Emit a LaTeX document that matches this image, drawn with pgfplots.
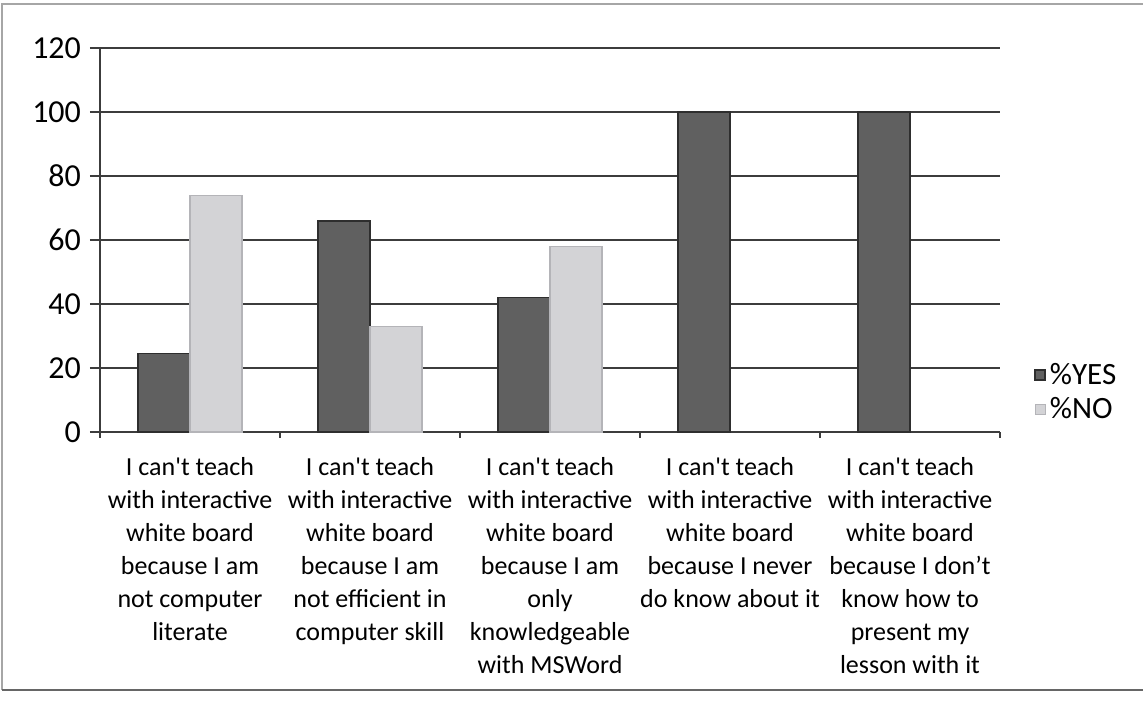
\documentclass[border=0pt]{standalone}
\usepackage{fontspec}
\setmainfont{Carlito}
\usepackage{pgfplots}
\pgfplotsset{compat=1.18}
\definecolor{yesfill}{HTML}{606060}
\definecolor{yesdraw}{HTML}{2E2E2E}
\definecolor{nofill}{HTML}{D3D3D6}
\definecolor{nodraw}{HTML}{B4B4B8}
\definecolor{gridc}{HTML}{3C3C3C}
\newcommand{\q}{\textquotesingle}
\begin{document}
\begin{tikzpicture}
\path[use as bounding box] (-50pt,-134pt) rectangle (521.5pt,216pt);
\draw[gray!70, line width=0.6pt] (-49pt,-129pt) -- (-49pt,214pt) -- (521.5pt,214pt);
\draw[gray!80!black, line width=0.8pt] (-49pt,-129pt) -- (521.5pt,-129pt);
\begin{axis}[
  scale only axis, width=450pt, height=192pt,
  ybar=0pt, bar width=26pt,
  xmin=-0.5, xmax=4.5, ymin=0, ymax=120,
  ytick={0,20,...,120},
  xtick={0,1,2,3,4},
  minor xtick={-0.5,0.5,1.5,2.5,3.5,4.5},
  xticklabels={
    {I can\q t teach\\with interactive\\white board\\because I am\\not computer\\literate},
    {I can\q t teach\\with interactive\\white board\\because I am\\not efficient in\\computer skill},
    {I can\q t teach\\with interactive\\white board\\because I am\\only\\knowledgeable\\with MSWord},
    {I can\q t teach\\with interactive\\white board\\because I never\\do know about it},
    {I can\q t teach\\with interactive\\white board\\because I don’t\\know how to\\present my\\lesson with it}},
  axis x line*=bottom, axis y line*=left,
  tick align=outside,
  major tick length=5pt,
  major x tick style={draw=none},
  minor x tick style={draw=gridc, line width=0.7pt},
  ytick style={draw=gridc, line width=0.7pt},
  axis line style={draw=gridc, line width=0.8pt},
  ymajorgrids, grid style={draw=gridc, line width=0.7pt},
  xticklabel style={align=center, font=\fontsize{13}{16.5}\selectfont, yshift=-4pt},
  yticklabel style={font=\fontsize{16}{18}\selectfont, xshift=-1pt},
  /pgf/number format/assume math mode=true,
  legend image code/.code={\draw[#1] (0pt,-2.5pt) rectangle (5pt,2.5pt);},
  legend style={at={(1.031,0.104)}, anchor=west, draw=none, fill=none,
    font=\fontsize{15.5}{17}\selectfont, row sep=1pt,
    /tikz/every even column/.append style={column sep=2pt}},
  legend cell align=left,
]
\addplot[fill=yesfill, draw=yesdraw, line width=0.8pt] coordinates {(0,24.5) (1,66) (2,42) (3,100) (4,100)};
\addplot[fill=nofill, draw=nodraw, line width=0.6pt] coordinates {(0,74) (1,33) (2,58)};
\legend{\%YES,\%NO}
\end{axis}
\end{tikzpicture}
\end{document}
